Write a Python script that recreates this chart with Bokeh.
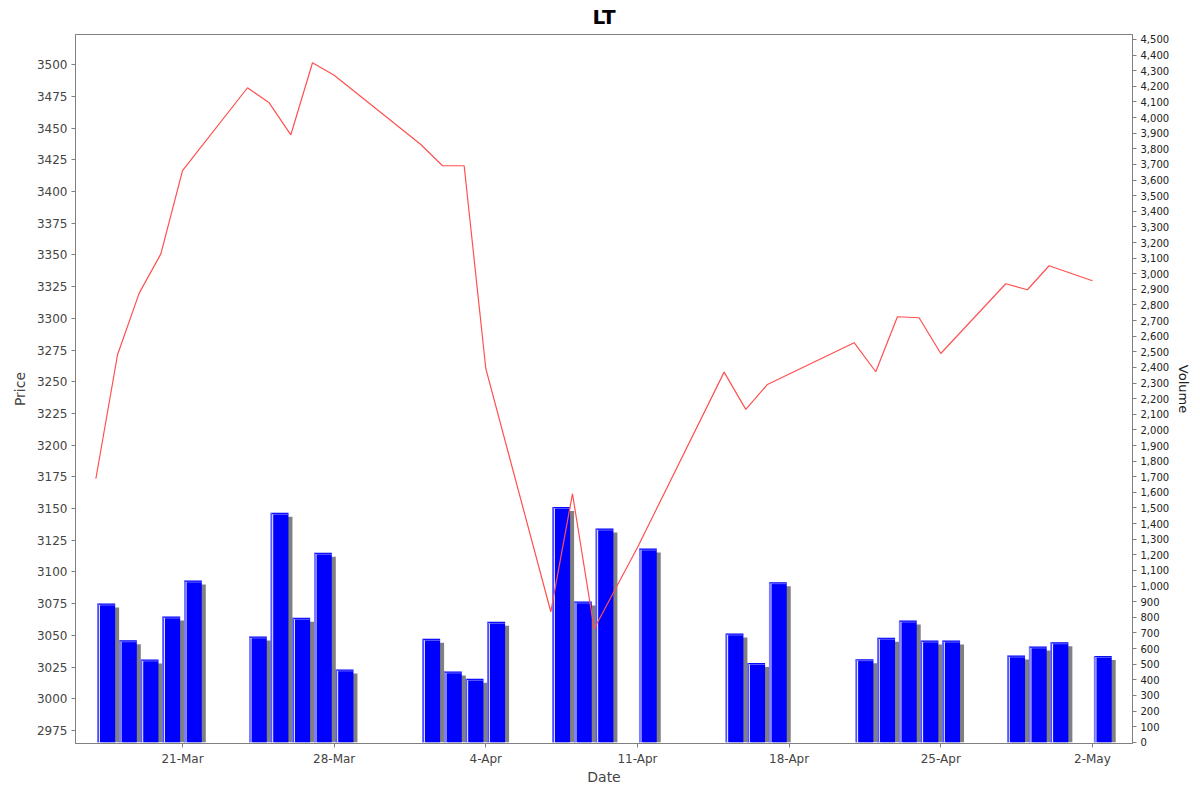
import pandas as pd
from bokeh.plotting import figure
from bokeh.models import (Range1d, LinearAxis, FixedTicker, NumeralTickFormatter,
                          DatetimeTickFormatter, SingleIntervalTicker, ColumnDataSource)
from bokeh.embed import file_html
from bokeh.resources import INLINE

# ---- data ----
title_text = "LT"
dates = ["2025-03-17", "2025-03-18", "2025-03-19", "2025-03-20", "2025-03-21",
         "2025-03-24", "2025-03-25", "2025-03-26", "2025-03-27", "2025-03-28",
         "2025-04-01", "2025-04-02", "2025-04-03", "2025-04-04",
         "2025-04-07", "2025-04-08", "2025-04-09", "2025-04-11",
         "2025-04-15", "2025-04-16", "2025-04-17",
         "2025-04-21", "2025-04-22", "2025-04-23", "2025-04-24", "2025-04-25",
         "2025-04-28", "2025-04-29", "2025-04-30", "2025-05-02"]
prices = [3173.5, 3271.3, 3319.9, 3350.9, 3416.6,
          3481.9, 3470.0, 3444.8, 3501.6, 3491.8,
          3437.1, 3420.4, 3420.4, 3260.3,
          3068.6, 3161.7, 3055.2, 3119.3,
          3257.6, 3228.2, 3247.9,
          3280.8, 3257.9, 3301.3, 3300.5, 3272.3,
          3327.3, 3322.6, 3341.5, 3329.7]
volumes = [888, 653, 530, 805, 1035,
           677, 1469, 797, 1213, 466,
           662, 453, 406, 771,
           1507, 901, 1368, 1240,
           696, 508, 1025,
           532, 669, 779, 651, 651,
           555, 613, 640, 553]
tick_dates = ["2025-03-21", "2025-03-28", "2025-04-04", "2025-04-11",
              "2025-04-18", "2025-04-25", "2025-05-02"]

# ---- geometry helpers (pixel-ish offsets expressed in data units) ----
DAY = pd.Timedelta(days=1)
px_day = DAY / 21.67          # one pixel along x
vol_min, vol_max = -8, 4532
px_vol = 25.6 / 4             # one pixel along volume axis
y_lo, y_hi = 2964.7, 3523.9

d = pd.to_datetime(dates)
left = d + 0.07 * DAY
right = d + 0.89 * DAY
bars = ColumnDataSource(dict(
    left=left, right=right, top=volumes,
    sl=left + 4 * px_day, sr=right + 4 * px_day,
    st=[v - 4 * px_vol for v in volumes],
    hx=left + 2 * px_day, ex=left + 0.5 * px_day,
    ht=[v - 1.5 * px_vol for v in volumes],
    zero=[0] * len(volumes),
))
line_src = ColumnDataSource(dict(x=d, y=prices))

FONT = "DejaVu Sans"
x_start = d[0] - 0.94 * DAY
x_end = d[-1] + 1.85 * DAY

p = figure(width=1200, height=792, x_axis_type="datetime",
           output_backend="svg", toolbar_location=None,
           title=title_text,
           x_range=Range1d(x_start, x_end),
           y_range=Range1d(y_lo, y_hi),
           min_border_left=75, min_border_right=68,
           min_border_top=34, min_border_bottom=49)

p.title.text_font = FONT
p.title.text_font_size = "20px"
p.title.text_font_style = "bold"
p.title.text_color = "#000000"
p.title.align = "center"
p.title.vertical_align = "top"
p.title.standoff = 8

p.extra_y_ranges = {"vol": Range1d(vol_min, vol_max)}

# shadows
p.quad(left="sl", right="sr", top="st", bottom="zero", source=bars,
       fill_color="#808080", line_color=None, y_range_name="vol")
# bars
p.quad(left="left", right="right", top="top", bottom="zero", source=bars,
       fill_color="#0000ff", line_color=None, y_range_name="vol")
p.segment(x0="ex", y0="zero", x1="ex", y1="top", source=bars,
          line_color="#8080ff", line_width=1, y_range_name="vol")
p.segment(x0="left", y0="ht", x1="right", y1="ht", source=bars,
          line_color="#6060ff", line_width=1, y_range_name="vol")
p.segment(x0="hx", y0="zero", x1="hx", y1="ht", source=bars,
          line_color="#ffffff", line_width=1, y_range_name="vol")

# price line
p.line(x="x", y="y", source=line_src, line_color="#ff5050", line_width=1.2)

# axes
vol_axis = LinearAxis(y_range_name="vol", axis_label="Volume",
                      ticker=SingleIntervalTicker(interval=100),
                      formatter=NumeralTickFormatter(format="0,0"))
p.add_layout(vol_axis, "right")

p.xaxis.ticker = FixedTicker(ticks=[pd.Timestamp(t).value // 10**6 for t in tick_dates])
p.xaxis.formatter = DatetimeTickFormatter(days="%-d-%b", months="%-d-%b")
p.xaxis.axis_label = "Date"
p.yaxis[0].axis_label = "Price"
p.yaxis[0].ticker = SingleIntervalTicker(interval=25)

for ax in p.xaxis + p.yaxis:
    ax.axis_line_color = "#808080"
    ax.major_tick_line_color = "#808080"
    ax.minor_tick_line_color = None
    ax.major_tick_in = 0
    ax.major_tick_out = 4
    ax.major_label_text_font = FONT
    ax.axis_label_text_font = FONT
    ax.axis_label_text_font_style = "normal"
    ax.axis_label_text_color = "#444444"
    ax.major_label_text_color = "#444444"
    ax.axis_label_text_font_size = "14px"
    ax.major_label_text_font_size = "12px"
    ax.axis_label_standoff = 6
    ax.major_label_standoff = 4

p.xaxis.axis_label_standoff = 0

vol_axis.major_label_text_font_size = "10px"
vol_axis.major_label_text_color = "#222222"
vol_axis.axis_label_text_font_size = "13px"
vol_axis.axis_label_text_color = "#222222"
vol_axis.axis_label_standoff = 4

p.grid.visible = False
p.outline_line_color = "#808080"
p.background_fill_color = "white"
p.border_fill_color = "white"

open("out.html", "w").write(file_html(p, INLINE))
